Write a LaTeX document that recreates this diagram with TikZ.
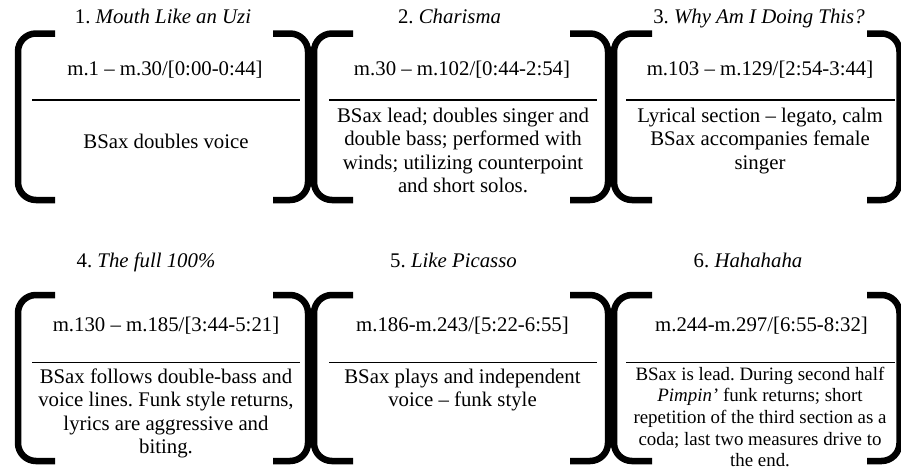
\documentclass[tikz,border=0pt]{standalone}
\usepackage{fontspec}
\setmainfont{Liberation Serif}
% one square bracket: stem at x=#1, arm tips at x=#2, from y=#3 to y=#4
\newcommand\sectbracket[4]{%
  \draw[brk] (#2,#3) -- (#1,#3) -- (#1,#4) -- (#2,#4);}
% centred block of lines whose first baseline sits on the node position
\newcommand\lines[1]{\begin{tabular}[t]{@{}c@{}}#1\end{tabular}}
\begin{document}
\frenchspacing
\begin{tikzpicture}[x=1pt,y=-1pt,
  brk/.style={line width=6.5pt, rounded corners=18pt, line cap=butt},
  rulestyle/.style={line width=1.1pt},
  txt/.style={anchor=base, inner sep=0pt, font=\frenchspacing\fontsize{20.8}{23.5}\selectfont},
  smalltxt/.style={anchor=base, inner sep=0pt, font=\frenchspacing\fontsize{18.9}{21.7}\selectfont}]
\useasboundingbox (0,0) rectangle (901,472);

% ---------- brackets, top row ----------
\sectbracket{18}{55}{33.5}{200}
\sectbracket{308}{273}{33.5}{200}
\sectbracket{314}{353}{33.5}{200}
\sectbracket{608}{570}{33.5}{200}
\sectbracket{614}{652}{33.5}{200}
\sectbracket{899.5}{867}{33.5}{200}

% ---------- brackets, bottom row ----------
\sectbracket{18}{55}{295}{461}
\sectbracket{308}{273}{295}{461}
\sectbracket{314}{353}{295}{461}
\sectbracket{608}{570}{295}{461}
\sectbracket{614}{652}{295}{461}
\sectbracket{899.5}{867}{295}{461}

% ---------- dividing rules ----------
\draw[rulestyle] (32,100) -- (300,100);
\draw[rulestyle] (329,100) -- (597,100);
\draw[rulestyle] (626,100) -- (895,100);
\draw[rulestyle] (32,362.5) -- (300,362.5);
\draw[rulestyle] (329,362.5) -- (597,362.5);
\draw[rulestyle] (626,362.5) -- (895,362.5);

% ---------- section 1 ----------
\node[txt] (t1) at (163,23) {1. \textit{Mouth Like an Uzi}};
\node[txt] (m1) at (165,75) {m.1 – m.30/[0:00-0:44]};
\node[txt] (b1) at (166,148) {BSax doubles voice};

% ---------- section 2 ----------
\node[txt] (t2) at (449.5,23) {2. \textit{Charisma}};
\node[txt] (m2) at (462,75) {m.30 – m.102/[0:44-2:54]};
\node[txt] (b2) at (463,122) {\lines{BSax lead; doubles singer and\\
  double bass; performed with\\ winds; utilizing counterpoint\\
  and short solos.}};

% ---------- section 3 ----------
\node[txt] (t3) at (759,23) {3. \textit{Why Am I Doing This?}};
\node[txt] (m3) at (760,75) {m.103 – m.129/[2:54-3:44]};
\node[txt] (b3) at (760,122) {\lines{Lyrical section – legato, calm\\
  BSax accompanies female\\ singer}};

% ---------- section 4 ----------
\node[txt] (t4) at (146,267) {4. \textit{The full 100\%}};
\node[txt] (m4) at (166,331) {m.130 – m.185/[3:44-5:21]};
\node[txt] (b4) at (166,383) {\lines{BSax follows double-bass and\\
  voice lines. Funk style returns,\\ lyrics are aggressive and\\ biting.}};

% ---------- section 5 ----------
\node[txt] (t5) at (453.5,267) {5. \textit{Like Picasso}};
\node[txt] (m5) at (462.5,331) {m.186-m.243/[5:22-6:55]};
\node[txt] (b5) at (462.5,383) {\lines{BSax plays and independent\\
  voice – funk style}};

% ---------- section 6 ----------
\node[txt] (t6) at (748,267) {6. \textit{Hahahaha}};
\node[txt] (m6) at (761.5,331) {m.244-m.297/[6:55-8:32]};
\node[smalltxt] (b6) at (760,380) {\lines{BSax is lead. During second half\\
  \textit{Pimpin’} funk returns; short\\ repetition of the third section as a\\
  coda; last two measures drive to\\ the end.}};
\end{tikzpicture}
\end{document}
